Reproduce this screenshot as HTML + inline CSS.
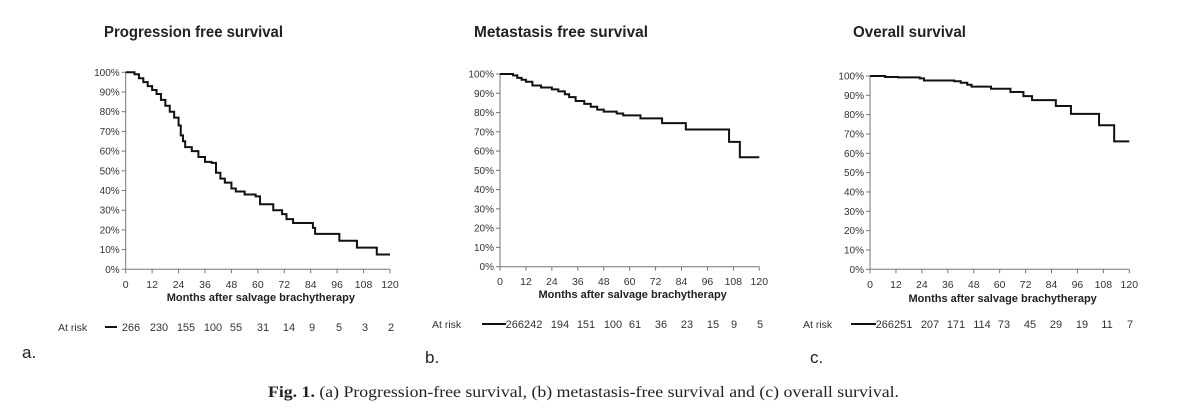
<!DOCTYPE html>
<html><head><meta charset="utf-8"><style>
html,body{margin:0;padding:0;background:#fff;}
svg{display:block;font-family:"Liberation Sans",sans-serif;}
</style></head><body>
<svg id="fig" width="1199" height="418" viewBox="0 0 1199 418" xmlns="http://www.w3.org/2000/svg">
<rect width="1199" height="418" fill="#fff"/>
<g id="root"></g>
<text x="22" y="358" font-size="17" fill="#222">a.</text>
<text x="425" y="363" font-size="17" fill="#222">b.</text>
<text x="810" y="363" font-size="17" fill="#222">c.</text>
<text x="268" y="397" font-size="15.5" font-family="Liberation Serif,serif" fill="#222" textLength="631" lengthAdjust="spacingAndGlyphs"><tspan font-weight="bold">Fig. 1.</tspan> (a) Progression-free survival, (b) metastasis-free survival and (c) overall survival.</text>
</svg>
<script>
const xTicks = [0,12,24,36,48,60,72,84,96,108,120];
const yTicks = [0,10,20,30,40,50,60,70,80,90,100];
const pfsTimes = [0,4,6,8,10,12,14,16,18,20,22,24,25,26,27,30,33,36,39,41,43,45,48,50,54,59,61,67,71,73,76,85,86,97,105,114];
const pfsSurv  = [100,99,97,95,93,91,89,86,83,80,77,73,68,65,62,60,57,54.5,54,49,46,44,41,39.5,38,37,33,30,28,25.5,23.5,21,18,14.5,11,7.5];
const mfsTimes = [0,6,8,10,12,15,19,24,27,30,32,35,39,42,45,48,54,57,65,75,86,106,111];
const mfsSurv  = [100,99.3,98,97,96,94,93,92,91,89.5,88,86,84.5,83,81.5,80.5,79.5,78.5,77,74.5,71.2,64.8,56.8];
const osTimes  = [0,7,13,23,25,39,42,45,47,56,65,71,75,86,93,106,113];
const osSurv   = [100,99.5,99.3,98.8,97.7,97.3,96.5,95.5,94.5,93.4,91.7,89.6,87.5,84.5,80.4,74.5,66.2];
const pfsRisk = ["266","230","155","100","55","31","14","9","5","3","2"];
const mfsRisk = ["266242","194","151","100","61","36","23","15","9","5"];
const osRisk  = ["266251","207","171","114","73","45","29","19","11","7"];
const titles = ["Progression free survival","Metastasis free survival","Overall survival"];

const NS="http://www.w3.org/2000/svg";
const root=document.getElementById('root');
function mk(tag,attrs,parent,text){const e=document.createElementNS(NS,tag);for(const k in attrs)e.setAttribute(k,attrs[k]);if(text!==undefined)e.textContent=text;parent.appendChild(e);return e;}

const panels=[
 {id:'pfs',x0:125.7,x1:390,yTop:72.3,yBot:269.3,tickY:288,titleY:301,times:pfsTimes,surv:pfsSurv,risk:pfsRisk,riskX:[131,159,186,213,236,263,289,312,339,365,391],riskY:331,arX:58,lineX:[105,117],tx:104,tw:179,title:titles[0]},
 {id:'mfs',x0:500,x1:759.3,yTop:74,yBot:266.7,tickY:285,titleY:298,times:mfsTimes,surv:mfsSurv,risk:mfsRisk,riskX:[524,560,586,613,635,661,687,713,734,760],riskY:328,arX:432,lineX:[482,506],tx:474,tw:174,title:titles[1]},
 {id:'os',x0:870,x1:1129.3,yTop:76,yBot:269.3,tickY:288,titleY:302,times:osTimes,surv:osSurv,risk:osRisk,riskX:[894,930,956,982,1004,1030,1056,1082,1107,1130],riskY:328,arX:803,lineX:[851,876],tx:853,tw:113,title:titles[2]}
];
panels.forEach(p=>{
 const g=mk('g',{},root);
 
 
 const xs=t=>p.x0+(p.x1-p.x0)*t/120;
 const ys=v=>p.yBot-(p.yBot-p.yTop)*v/100;
 const t=mk('text',{x:p.tx,y:37,'font-size':16,'font-weight':'bold',fill:'#222',textLength:p.tw,lengthAdjust:'spacingAndGlyphs'},g,p.title);
 
 
 const ax=mk('path',{d:`M${p.x0},${p.yTop}V${p.yBot}H${p.x1}`,stroke:'#777',fill:'none','stroke-width':1},g);
 
 
 yTicks.forEach(v=>{
  mk('line',{x1:p.x0-4,x2:p.x0,y1:ys(v),y2:ys(v),stroke:'#777'},g);
  const l=mk('text',{x:p.x0-6,y:ys(v)+3.5,'font-size':10,'text-anchor':'end',fill:'#333'},g,v+'%');
  
  
 });
 xTicks.forEach(v=>{
  mk('line',{x1:xs(v),x2:xs(v),y1:p.yBot,y2:p.yBot+4,stroke:'#777'},g);
  const l=mk('text',{x:xs(v),y:p.tickY,'font-size':10.5,'text-anchor':'middle',fill:'#333'},g,String(v));
  
  
 });
 const xt=mk('text',{x:(p.x0+p.x1)/2+3,y:p.titleY,'font-size':11,'font-weight':'bold','text-anchor':'middle',fill:'#222'},g,'Months after salvage brachytherapy');
 
 
 let d=`M${xs(p.times[0])},${ys(p.surv[0])}`;
 for(let i=1;i<p.times.length;i++){d+=`H${xs(p.times[i])}V${ys(p.surv[i])}`;}
 d+=`H${xs(120)}`;
 const c=mk('path',{d:d,stroke:'#111',fill:'none','stroke-width':2},g);
 
 
 const ar=mk('text',{x:p.arX,y:p.riskY,'font-size':10.5,fill:'#333'},g,'At risk');
 
 
 mk('line',{x1:p.lineX[0],x2:p.lineX[1],y1:p.riskY-4,y2:p.riskY-4,stroke:'#111','stroke-width':2},g);
 p.risk.forEach((r,i)=>{
  const n=mk('text',{x:p.riskX[i],y:p.riskY,'font-size':11,'text-anchor':'middle',fill:'#333'},g,r);
  
  
 });
});
</script>
</body></html>
